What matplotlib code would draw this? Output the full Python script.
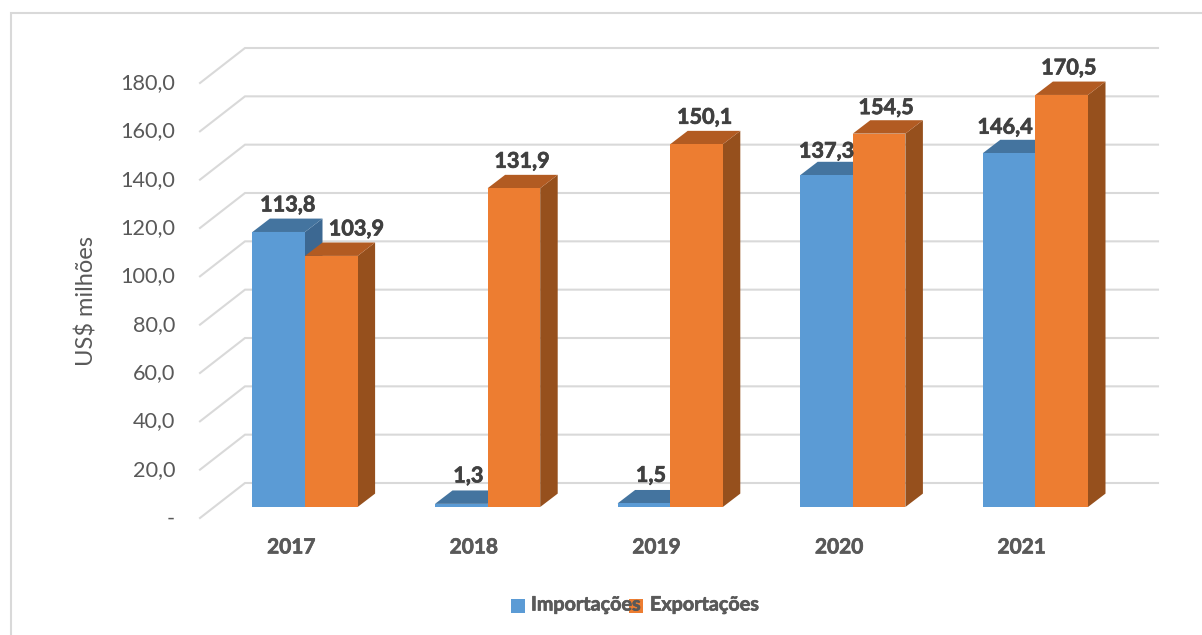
import matplotlib
matplotlib.use('Agg')
import matplotlib.pyplot as plt
import matplotlib.patheffects as pe
from matplotlib.lines import Line2D
from matplotlib.patches import Polygon, Rectangle
from matplotlib.transforms import Affine2D

plt.rcParams['font.family'] = ['Lato', 'DejaVu Sans']

years = ['2017', '2018', '2019', '2020', '2021']
importacoes = [113.8, 1.3, 1.5, 137.3, 146.4]
exportacoes = [103.9, 131.9, 150.1, 154.5, 170.5]
imp_labels = ['113,8', '1,3', '1,5', '137,3', '146,4']
exp_labels = ['103,9', '131,9', '150,1', '154,5', '170,5']
y_ticks = [0, 20, 40, 60, 80, 100, 120, 140, 160, 180]
y_tick_labels = ['-', '20,0', '40,0', '60,0', '80,0', '100,0', '120,0', '140,0', '160,0', '180,0']

W, H = 1202, 635
GREY = '#595959'
DARK = '#404040'
GRID = '#d9d9d9'


# Lato bold is lighter than the reference font, thicken it a little
def heavy(color):
    return [pe.withStroke(linewidth=0.5, foreground=color)]


fig = plt.figure(figsize=(W / 100, H / 100), dpi=100)
# axes = the front plane of the fake 3d box, pixels from the reference
ax = fig.add_axes([200 / W, (H - 518) / H, 913 / W, 435 / H])
ax.set_xlim(-0.5, 4.5)
ax.set_ylim(0, 180)
for s in ax.spines.values():
    s.set_visible(False)

px_x = 5 / 913
px_y = 180 / 435

# back wall lines and the diagonals on the side wall
back_x, back_y = 45 * px_x, 35 * px_y
for v in y_ticks:
    ax.plot([-0.5, -0.5 + back_x, 4.5 + back_x], [v, v + back_y, v + back_y],
            color=GRID, lw=1.5, clip_on=False, zorder=1, solid_joinstyle='miter')

# bars stand a bit behind the front plane
floor_x, floor_y = 13.7 * px_x, 11 * px_y
bar_w = 52.6 * px_x
depth_x, depth_y = 17.5 * px_x, 13.4 * px_y


def draw_bar(left, val, front, top, side, z):
    y0 = floor_y
    y1 = floor_y + val
    r = left + bar_w
    ax.add_patch(Polygon([(r, y0), (r + depth_x, y0 + depth_y), (r + depth_x, y1 + depth_y), (r, y1)],
                         color=side, lw=0, clip_on=False, zorder=z))
    ax.add_patch(Polygon([(left, y1), (left + depth_x, y1 + depth_y), (r + depth_x, y1 + depth_y), (r, y1)],
                         color=top, lw=0, clip_on=False, zorder=z))
    ax.bar(left, val, bar_w, bottom=y0, align='edge', color=front, lw=0, clip_on=False, zorder=z)


for i in range(len(years)):
    x = i + floor_x
    draw_bar(x - bar_w, importacoes[i], '#5b9bd5', '#44749f', '#3c6892', 3 + i * 2)
    draw_bar(x, exportacoes[i], '#ed7d31', '#b25b22', '#96501d', 4 + i * 2)

# data labels, nudged by hand like in the original
imp_dx = [9, 7, 7, 0, -4]
exp_dx = [25, 8, 8, 7, 7]
imp_dy = [27, 28, 28, 24, 26]
exp_dy = [27, 27, 27, 26, 27]
for i in range(len(years)):
    x = i + floor_x
    ax.text(x - bar_w / 2 + imp_dx[i] * px_x, floor_y + importacoes[i] + imp_dy[i] * px_y, imp_labels[i],
            ha='center', va='center', fontsize=15.6, fontweight='bold', color=DARK, zorder=30, clip_on=False,
            path_effects=heavy(DARK))
    ax.text(x + bar_w / 2 + exp_dx[i] * px_x, floor_y + exportacoes[i] + exp_dy[i] * px_y, exp_labels[i],
            ha='center', va='center', fontsize=15.6, fontweight='bold', color=DARK, zorder=30, clip_on=False,
            path_effects=heavy(DARK))

ax.set_xticks(range(len(years)))
ax.set_xticklabels(years, fontsize=15, fontweight='bold', color=GREY, path_effects=heavy(GREY))
ax.set_yticks(y_ticks)
ax.set_yticklabels(y_tick_labels, fontsize=15.6, color=GREY)
ax.tick_params(axis='x', length=0, pad=14)
ax.tick_params(axis='y', length=0, pad=18)
ax.set_ylabel('US$ milhões', fontsize=17, color=GREY, labelpad=16.5)
# the value labels sit a little above their gridline in the reference
for t in ax.get_yticklabels():
    t.set_transform(t.get_transform() + Affine2D().translate(0, 1.8))

# legend by hand: the text of the first entry runs under the second swatch in the reference
for sx, c, name, tx in [(511, '#5b9bd5', 'Importações', 531), (629, '#ed7d31', 'Exportações', 650)]:
    fig.add_artist(Rectangle((sx / W, (H - 613) / H), 14 / W, 14 / H, transform=fig.transFigure,
                             facecolor=c, lw=0, zorder=5))
    fig.text(tx / W, (H - 604.5) / H, name, ha='left', va='center', fontsize=14.2, fontweight='bold',
             color=GREY, zorder=6, path_effects=heavy(GREY))

# chart frame, runs off the right and bottom of the crop
fig.add_artist(Line2D([11 / W, 11 / W, 1], [0, (H - 13) / H, (H - 13) / H], transform=fig.transFigure,
                      color=GRID, lw=1.5, solid_joinstyle='miter'))

fig.savefig('out.png', dpi=100)
